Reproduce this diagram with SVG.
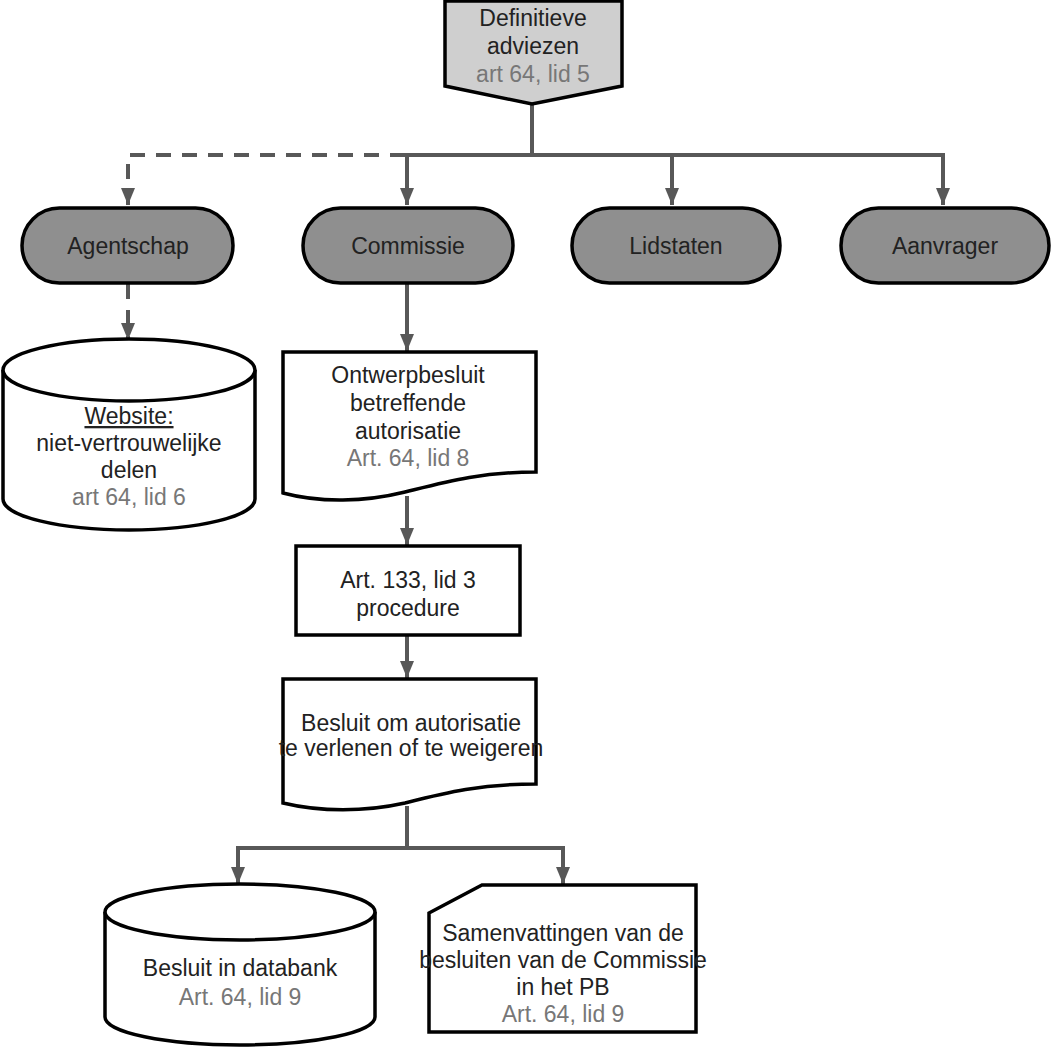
<svg xmlns="http://www.w3.org/2000/svg" width="1052" height="1050" viewBox="0 0 1052 1050">
<style>
text{font-family:"Liberation Sans",Arial,sans-serif;font-size:23px;text-anchor:middle;fill:#222}
.ref{fill:#777}
.shape{stroke:#000;stroke-width:3.5;fill:#fff}
.term{fill:#8f8f8f}
.conn{stroke:#585858;stroke-width:4;fill:none}
.dash{stroke-dasharray:15 11}
</style>
<defs>
<marker id="ah" markerUnits="userSpaceOnUse" markerWidth="18" markerHeight="16" refX="17" refY="8" orient="auto" viewBox="0 0 18 16">
<path d="M0,1 L17,8 L0,15 Z" fill="#585858"/>
</marker>
</defs>
<g id="connectors">
<path class="conn" d="M532,103 V155 H405"/>
<path class="conn dash" d="M405,155 H128 V205" marker-end="url(#ah)"/>
<path class="conn" d="M407,155 V205" marker-end="url(#ah)"/>
<path class="conn" d="M532,155 H943 V205" marker-end="url(#ah)"/>
<path class="conn" d="M672,155 V205" marker-end="url(#ah)"/>
<path class="conn dash" d="M128,284 V340" marker-end="url(#ah)"/>
<path class="conn" d="M407,284 V351" marker-end="url(#ah)"/>
<path class="conn" d="M407,496 V545" marker-end="url(#ah)"/>
<path class="conn" d="M407,636 V678" marker-end="url(#ah)"/>
<path class="conn" d="M407,806 V848 H238 V884" marker-end="url(#ah)"/>
<path class="conn" d="M407,848 H563 V884" marker-end="url(#ah)"/>
</g>
<g id="definitieve">
<path class="shape" d="M445,1 H622 V86 L532,104 L445,86 Z" style="fill:#cfcfcf"/>
<text x="533" y="26">Definitieve</text>
<text x="533" y="54">adviezen</text>
<text x="533" y="82" class="ref">art 64, lid 5</text>
</g>
<g id="agentschap">
<rect class="shape term" x="22" y="208" width="211" height="75" rx="37.5"/>
<text x="128" y="254">Agentschap</text>
</g>
<g id="commissie">
<rect class="shape term" x="303" y="208" width="210" height="75" rx="37.5"/>
<text x="408" y="254">Commissie</text>
</g>
<g id="lidstaten">
<rect class="shape term" x="572" y="208" width="208" height="75" rx="37.5"/>
<text x="676" y="254">Lidstaten</text>
</g>
<g id="aanvrager">
<rect class="shape term" x="841" y="208" width="208" height="75" rx="37.5"/>
<text x="945" y="254">Aanvrager</text>
</g>
<g id="website">
<path class="shape" d="M3,370 A126,31 0 0 1 255,370 V499 A126,31 0 0 1 3,499 Z"/>
<path class="shape" d="M3,370 A126,31 0 0 0 255,370" fill="none"/>
<text x="129" y="424" text-decoration="underline">Website:</text>
<text x="129" y="451">niet-vertrouwelijke</text>
<text x="129" y="478">delen</text>
<text x="129" y="505" class="ref">art 64, lid 6</text>
</g>
<g id="ontwerpbesluit">
<path class="shape" d="M283,352 H536 V472 C480,472 445,482 405,492 C365,502 320,503 283,493 Z"/>
<text x="408" y="383">Ontwerpbesluit</text>
<text x="408" y="411">betreffende</text>
<text x="408" y="439">autorisatie</text>
<text x="408" y="466" class="ref">Art. 64, lid 8</text>
</g>
<g id="procedure">
<rect class="shape" x="296" y="546" width="224" height="89"/>
<text x="408" y="588">Art. 133, lid 3</text>
<text x="408" y="616">procedure</text>
</g>
<g id="besluit">
<path class="shape" d="M283,679 H536 V784 C480,784 445,793 405,803 C365,812 320,812 283,803 Z"/>
<text x="411" y="731">Besluit om autorisatie</text>
<text x="411" y="756">te verlenen of te weigeren</text>
</g>
<g id="databank">
<path class="shape" d="M105,912 A135,28 0 0 1 375,912 V1017 A135,28 0 0 1 105,1017 Z"/>
<path class="shape" d="M105,912 A135,28 0 0 0 375,912" fill="none"/>
<text x="240" y="976">Besluit in databank</text>
<text x="240" y="1005" class="ref">Art. 64, lid 9</text>
</g>
<g id="samenvattingen">
<path class="shape" d="M482,885 H696 V1032 H429 V913 Z"/>
<text x="563" y="941">Samenvattingen van de</text>
<text x="563" y="968">besluiten van de Commissie</text>
<text x="563" y="995">in het PB</text>
<text x="563" y="1022" class="ref">Art. 64, lid 9</text>
</g>
</svg>
